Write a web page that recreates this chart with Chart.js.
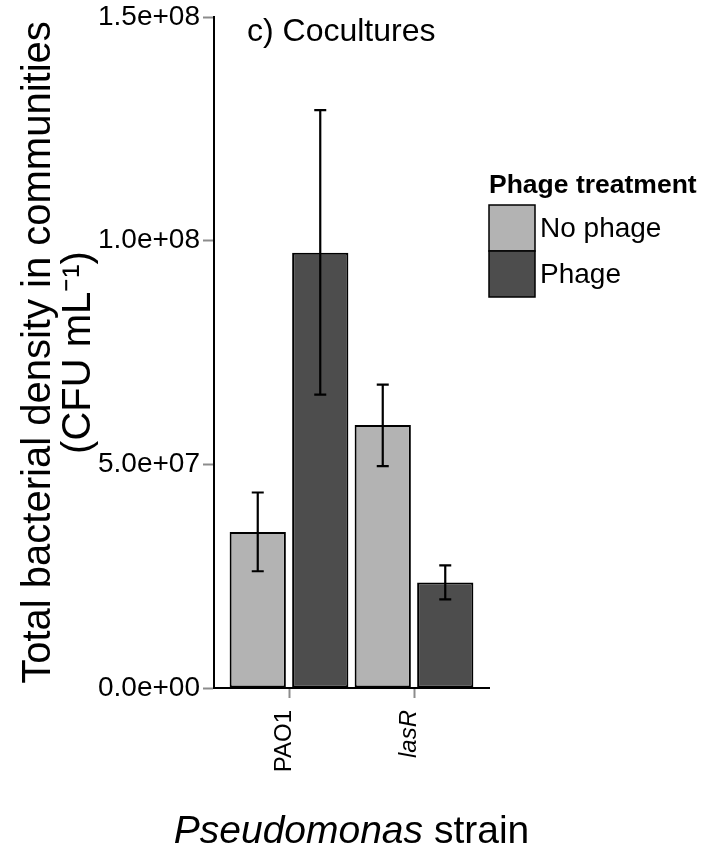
<!DOCTYPE html>
<html><head><meta charset="utf-8">
<script src="https://cdn.jsdelivr.net/npm/chart.js@4.4.1/dist/chart.umd.min.js"></script>
<style>html,body{margin:0;padding:0;background:#fff}#c{display:block}</style>
</head><body>
<canvas id="c" width="719" height="851"></canvas>
<script>
// ---- data ----
const categories = ['PAO1', 'lasR'];
const italicCategories = ['lasR'];
const seriesNames = ['No phage', 'Phage'];
const noPhageMean = [34.9e6, 58.8e6];
const noPhageLow  = [26.1e6, 49.6e6];
const noPhageHigh = [43.7e6, 67.8e6];
const phageMean = [97.3e6, 23.6e6];
const phageLow  = [65.6e6, 19.8e6];
const phageHigh = [129.2e6, 27.4e6];
const yTickValues = [0, 5e7, 1e8, 1.5e8];
const yTickLabels = ['0.0e+00', '5.0e+07', '1.0e+08', '1.5e+08'];
const plotTitle = 'c) Cocultures';
const legendTitle = 'Phage treatment';
const yTitle = ['Total bacterial density in communities', '(CFU mL\u207B\u00B9)'];
const xTitleItalic = 'Pseudomonas';
const xTitleRest = ' strain';

const FAMILY = '"Liberation Sans", Arial, Helvetica, sans-serif';
Chart.defaults.font.family = FAMILY;
Chart.defaults.color = '#000';

const toPoints = arr => arr.map((v, i) => ({x: i, y: v}));

const errorBars = {
  id: 'errorBars',
  afterDatasetsDraw(chart) {
    const ctx = chart.ctx, y = chart.scales.y;
    chart.data.datasets.forEach((ds, di) => {
      const meta = chart.getDatasetMeta(di);
      meta.data.forEach((bar, i) => {
        const lo = y.getPixelForValue(ds.errLow[i]);
        const hi = y.getPixelForValue(ds.errHigh[i]);
        ctx.save();
        ctx.strokeStyle = '#000';
        ctx.lineWidth = 2.2;
        ctx.beginPath();
        ctx.moveTo(bar.x, lo); ctx.lineTo(bar.x, hi);
        ctx.moveTo(bar.x - 6, lo); ctx.lineTo(bar.x + 6, lo);
        ctx.moveTo(bar.x - 6, hi); ctx.lineTo(bar.x + 6, hi);
        ctx.stroke();
        ctx.restore();
      });
    });
  }
};

const annotations = {
  id: 'annotations',
  afterDraw(chart) {
    const ctx = chart.ctx;
    const area = chart.chartArea;
    ctx.save();
    ctx.fillStyle = '#000';
    ctx.textBaseline = 'alphabetic';
    ctx.textAlign = 'left';
    // plot title
    ctx.font = '32px ' + FAMILY;
    ctx.fillText(plotTitle, 247, 41);
    // x axis title (mixed italic)
    ctx.font = 'italic 39px ' + FAMILY;
    const w1 = ctx.measureText(xTitleItalic).width;
    ctx.font = '39px ' + FAMILY;
    const w2 = ctx.measureText(xTitleRest).width;
    const cx = (area.left + area.right) / 2;
    const sx = cx - (w1 + w2) / 2;
    ctx.font = 'italic 39px ' + FAMILY;
    ctx.fillText(xTitleItalic, sx, 843);
    ctx.font = '39px ' + FAMILY;
    ctx.fillText(xTitleRest, sx + w1, 843);
    // legend
    ctx.font = 'bold 26.5px ' + FAMILY;
    ctx.fillText(legendTitle, 489, 193);
    const keyX = 489, keyW = 46, keyH = 46, keyY0 = 205;
    chart.data.datasets.forEach((ds, i) => {
      const ky = keyY0 + i * keyH;
      ctx.fillStyle = ds.backgroundColor;
      ctx.fillRect(keyX, ky, keyW, keyH);
      ctx.strokeStyle = '#000';
      ctx.lineWidth = 1.5;
      ctx.strokeRect(keyX, ky, keyW, keyH);
      ctx.fillStyle = '#000';
      ctx.font = '28px ' + FAMILY;
      ctx.textBaseline = 'middle';
      ctx.fillText(ds.label, keyX + keyW + 5, ky + keyH / 2 + 1);
      ctx.textBaseline = 'alphabetic';
    });
    ctx.restore();
  }
};

new Chart(document.getElementById('c'), {
  type: 'bar',
  data: {
    datasets: [
      {
        label: seriesNames[0],
        data: toPoints(noPhageMean),
        errLow: noPhageLow, errHigh: noPhageHigh,
        backgroundColor: '#b3b3b3',
        borderColor: '#000', borderWidth: 2, borderSkipped: false,
        categoryPercentage: 1.0, barPercentage: 0.9
      },
      {
        label: seriesNames[1],
        data: toPoints(phageMean),
        errLow: phageLow, errHigh: phageHigh,
        backgroundColor: '#4d4d4d',
        borderColor: '#000', borderWidth: 2, borderSkipped: false,
        categoryPercentage: 1.0, barPercentage: 0.9
      }
    ]
  },
  options: {
    responsive: false,
    animation: false,
    layout: { padding: { left: 0, right: 230, top: 14.5, bottom: 0 } },
    plugins: { legend: { display: false }, tooltip: { enabled: false }, title: { display: false } },
    scales: {
      x: {
        type: 'linear',
        offset: false,
        min: -0.6, max: 1.6,
        afterBuildTicks: s => { s.ticks = categories.map((c, i) => ({value: i})); },
        afterFit: s => { s.height = 163; },
        grid: { offset: false, drawOnChartArea: false, drawTicks: true, tickLength: 10, tickColor: '#8c8c8c', tickWidth: 2 },
        border: { display: true, color: '#000', width: 2 },
        ticks: {
          autoSkip: false, minRotation: 90, maxRotation: 90, padding: 12, labelOffset: -5,
          callback: v => categories[v],
          font: ctx => ({ size: 24, family: FAMILY, lineHeight: 1,
            style: (ctx.tick && italicCategories.includes(categories[ctx.tick.value])) ? 'italic' : 'normal' })
        }
      },
      y: {
        min: 0, max: 1.5e8,
        afterBuildTicks: s => { s.ticks = yTickValues.map(v => ({value: v})); },
        afterFit: s => { s.width = 214; },
        grid: { drawOnChartArea: false, drawTicks: true, tickLength: 11, tickColor: '#8c8c8c', tickWidth: 2 },
        border: { display: true, color: '#000', width: 2 },
        ticks: {
          padding: 3,
          font: { size: 28, lineHeight: 1 },
          callback: v => yTickLabels[yTickValues.indexOf(v)]
        },
        title: {
          display: true, text: yTitle,
          font: { size: 40, lineHeight: 1.0 },
          padding: { top: 19, bottom: 0 }
        }
      }
    }
  },
  plugins: [errorBars, annotations]
});
</script>
</body></html>
